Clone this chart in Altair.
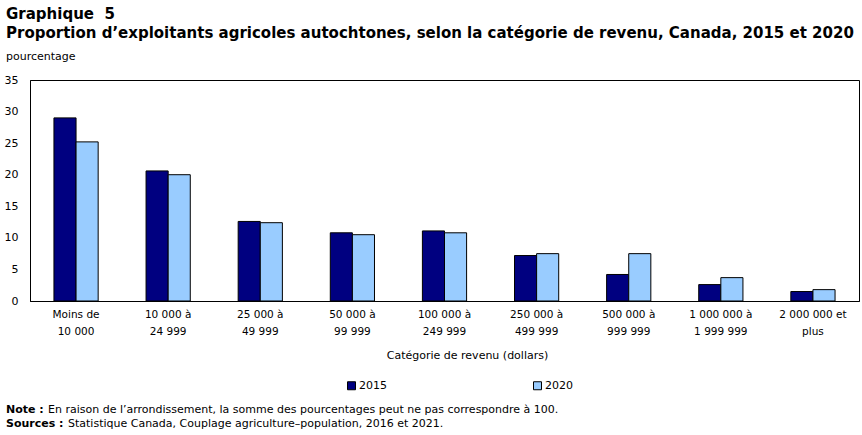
import altair as alt
import pandas as pd

# Income categories (two-line axis labels) and shares of Indigenous farm operators, in %
categories = [
    "Moins de\n10 000",
    "10 000 à\n24 999",
    "25 000 à\n49 999",
    "50 000 à\n99 999",
    "100 000 à\n249 999",
    "250 000 à\n499 999",
    "500 000 à\n999 999",
    "1 000 000 à\n1 999 999",
    "2 000 000 et\nplus",
]
years = ["2015", "2020"]
share_2015 = [29.0, 20.6, 12.6, 10.8, 11.1, 7.2, 4.2, 2.6, 1.5]
share_2020 = [25.2, 20.0, 12.4, 10.5, 10.8, 7.5, 7.5, 3.7, 1.8]
y_ticks = [0, 5, 10, 15, 20, 25, 30, 35]

title_lines = [
    "Graphique\u00a0\u00a05",
    "Proportion d’exploitants agricoles autochtones, selon la catégorie de revenu, Canada, 2015 et 2020",
]
y_unit = "pourcentage"
x_title = "Catégorie de revenu (dollars)"
note_head, note_body = "Note :", "En raison de l’arrondissement, la somme des pourcentages peut ne pas correspondre à 100."
src_head, src_body = "Sources :", "Statistique Canada, Couplage agriculture–population, 2016 et 2021."

FONT = "DejaVu Sans"

rows = []
for cat, a, b in zip(categories, share_2015, share_2020):
    rows.append({"categorie": cat, "annee": years[0], "valeur": a})
    rows.append({"categorie": cat, "annee": years[1], "valeur": b})
df = pd.DataFrame(rows)

bars = alt.Chart(df).mark_bar(stroke="black", strokeWidth=1).encode(
    x=alt.X(
        "categorie:N",
        sort=categories,
        scale=alt.Scale(paddingInner=0.52, paddingOuter=0.26),
        axis=alt.Axis(
            title=x_title,
            labelAngle=0,
            labelExpr="split(datum.label, '\\n')",
            labelLineHeight=17,
            labelPadding=8,
            labelFontSize=10.5,
            ticks=False,
            titleFontSize=11,
            titleFontWeight="normal",
            titlePadding=13,
            titleX=437,
        ),
    ),
    xOffset=alt.XOffset("annee:N", sort=years),
    y=alt.Y(
        "valeur:Q",
        scale=alt.Scale(domain=[0, 35], nice=False),
        axis=alt.Axis(
            title=None,
            values=y_ticks,
            ticks=False,
            grid=False,
            labelPadding=12,
            labelFontSize=11,
        ),
    ),
    color=alt.Color(
        "annee:N",
        sort=years,
        scale=alt.Scale(domain=years, range=["#000080", "#99CCFF"]),
        legend=alt.Legend(
            title=None,
            orient="none",
            legendX=316,
            legendY=300,
            direction="horizontal",
            columns=2,
            columnPadding=144,
            symbolType="square",
            symbolSize=64,
            symbolStrokeColor="black",
            symbolStrokeWidth=1,
            symbolOpacity=1,
            labelFontSize=11,
            labelOffset=2,
        ),
    ),
)

def footer(text, x, y, bold):
    return alt.Chart(pd.DataFrame({"t": [text]})).mark_text(
        align="left", baseline="alphabetic", fontSize=11, font=FONT,
        fontWeight="bold" if bold else "normal", color="black",
    ).encode(x=alt.value(x), y=alt.value(y), text="t:N")

chart = alt.layer(
    bars,
    footer(note_head, -24, 333, True),
    footer(note_body, 18, 333, False),
    footer(src_head, -24, 347, True),
    footer(src_body, 38, 347, False),
).properties(
    width=829,
    height=221,
    autosize=alt.AutoSizeParams(type="none"),
    padding={"left": 30, "top": 80, "right": 3, "bottom": 134},
    title=alt.Title(
        text=title_lines,
        subtitle=y_unit,
        anchor="start",
        frame="group",
        dx=-24,
        fontSize=15,
        lineHeight=19,
        font=FONT,
        fontWeight="bold",
        color="black",
        subtitleFont=FONT,
        subtitleFontSize=11,
        subtitleColor="black",
        subtitlePadding=10,
        offset=12,
    ),
).configure(font=FONT).configure_view(
    stroke="black", strokeWidth=1
).configure_axis(
    domainColor="black", labelColor="black", titleColor="black", labelFont=FONT, titleFont=FONT
).configure_legend(labelColor="black", labelFont=FONT)

chart.save("out.html", embed_options={"renderer": "svg", "actions": False})
